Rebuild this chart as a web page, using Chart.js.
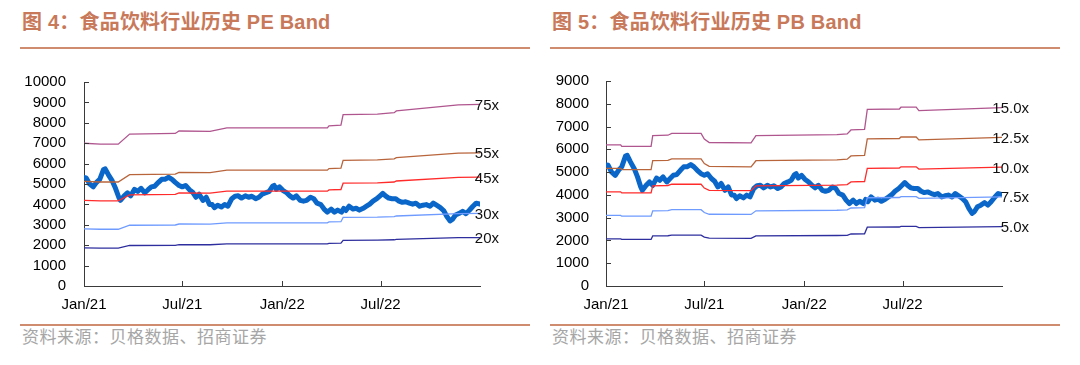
<!DOCTYPE html>
<html>
<head>
<meta charset="utf-8">
<script src="https://cdn.jsdelivr.net/npm/chart.js@4.4.0/dist/chart.umd.min.js"></script>
<style>
body{margin:0;width:1080px;height:365px;background:#fff;position:relative;overflow:hidden;font-family:"Liberation Sans","Noto Sans CJK SC",sans-serif;}
.title{position:absolute;top:12px;font-size:20px;line-height:20px;font-weight:bold;color:#C8795A;white-space:nowrap;letter-spacing:0.2px;}
.rule{position:absolute;height:2px;background:#D08C6E;}
.src{position:absolute;top:329px;font-size:17px;line-height:17px;color:#A6A6A6;letter-spacing:0.5px;white-space:nowrap;}
.box{position:absolute;top:55px;width:540px;height:267px;}
</style>
</head>
<body>

<div class="title" style="left:22px">图 4：食品饮料行业历史 PE Band</div>
<div class="rule" style="left:20px;width:510px;top:47px"></div>
<div class="box" style="left:0px"><canvas id="peChart"></canvas></div>
<div class="rule" style="left:20px;width:510px;top:324px"></div>
<div class="src" style="left:22px">资料来源：贝格数据、招商证券</div>

<div class="title" style="left:552px">图 5：食品饮料行业历史 PB Band</div>
<div class="rule" style="left:550px;width:510px;top:47px"></div>
<div class="box" style="left:540px"><canvas id="pbChart"></canvas></div>
<div class="rule" style="left:550px;width:510px;top:324px"></div>
<div class="src" style="left:552px">资料来源：贝格数据、招商证券</div>

<script>
// x axis: days since 1 Jan 2021
const tickDays=[0,181,365,546];
const tickLabels=["Jan/21","Jul/21","Jan/22","Jul/22"];

// index level (thick blue line), shared by both charts
const priceDays=[0,4,10,17,23,29,36,39,45,52,58,64,67,74,80,86,93,99,105,112,118,124,130,137,143,149,156,162,168,175,181,187,194,200,206,212,219,225,231,236,240,246,253,259,265,272,278,284,290,297,303,309,316,322,328,335,341,347,350,354,360,366,373,379,385,391,398,404,410,417,423,429,436,442,448,455,461,467,474,478,482,488,495,501,507,514,520,526,532,539,545,550,555,561,567,574,580,586,592,599,605,611,618,624,630,637,643,649,656,662,668,674,678,684,690,697,703,709,716,722,729];
const priceValues=[5320,5300,5010,4860,5080,5230,5710,5740,5450,5150,4790,4350,4200,4420,4570,4420,4740,4640,4790,4570,4720,4860,4890,5080,5230,5230,5330,5230,5080,4930,4860,4930,4720,4600,4350,4500,4200,4350,4000,3990,3840,3960,3870,3990,3910,4280,4400,4420,4310,4420,4350,4400,4280,4350,4500,4570,4640,4890,4930,4740,4860,4690,4570,4420,4310,4420,4200,4160,4200,4350,4280,4060,3990,3770,3620,3770,3620,3720,3620,3800,3700,3910,3770,3810,3720,3810,3910,4010,4160,4280,4420,4540,4420,4310,4280,4280,4160,4100,4130,4060,4010,4060,3910,3960,3990,3910,4060,3960,3840,3700,3410,3190,3260,3480,3550,3660,3550,3700,3910,4060,4010];

// PE band: earnings per index point
const peDays=[0,30,63,84,168,175,232,263,448,451,473,477,540,571,575,689,729];
const peEps=[93.3,92.7,92.7,99.3,99.7,101.3,101.1,103.3,103.3,104.7,105.1,112.0,112.4,113.3,114.4,118.4,118.7];
const peMultiples=[75,55,45,30,20];
const peLabels=["75x","55x","45x","30x","20x"];

// PB band: book value per index point
const pbDays=[0,27,29,83,86,114,121,175,181,190,267,276,425,444,451,476,481,540,543,571,576,729];
const pbBps=[413.3,413.3,408.7,408.7,440,441.3,446.7,446.7,430,420,418.7,440,443.3,445.3,456.7,458.7,516.7,518,523.3,523.3,513.3,522];
const pbMultiples=[15,12.5,10,7.5,5];
const pbLabels=["15.0x","12.5x","10.0x","7.5x","5.0x"];

const bandColors=["#B0568F","#B8653C","#FF2B2B","#6F9BFF","#2E2E9E"];

const axisFont={family:"Liberation Sans",size:15};

const bandLabelPlugin={
    id:"bandLabels",
    afterDatasetsDraw(chart,args,opts){
        const ctx=chart.ctx;
        const xs=chart.scales.x,ys=chart.scales.y;
        ctx.save();
        ctx.strokeStyle="#3a3a3a";
        ctx.lineWidth=1;
        // inside tick marks
        ys.ticks.forEach(t=>{
            const py=Math.round(ys.getPixelForValue(t.value))+0.5;
            ctx.beginPath();ctx.moveTo(xs.left,py);ctx.lineTo(xs.left+5,py);ctx.stroke();
        });
        xs.ticks.forEach(t=>{
            const px=Math.round(xs.getPixelForValue(t.value))+0.5;
            ctx.beginPath();ctx.moveTo(px,ys.bottom);ctx.lineTo(px,ys.bottom-5);ctx.stroke();
        });
        ctx.font='15px "Liberation Sans"';
        ctx.fillStyle="#111";
        ctx.textBaseline="middle";
        ctx.textAlign="right";
        chart.data.datasets.forEach((ds,i)=>{
            if(!ds.bandLabel) return;
            const meta=chart.getDatasetMeta(i);
            const last=meta.data[meta.data.length-1];
            ctx.fillText(ds.bandLabel,last.x+opts.offset,last.y+1.5);
        });
        ctx.restore();
    }
};

function makeChart(id,days,base,multiples,labels,yMax,yWidth,yPad,padRight,labelOffset){

    const datasets=multiples.map((m,i)=>({
        data:days.map((d,k)=>({x:d,y:base[k]*m})),
        borderColor:bandColors[i],
        borderWidth:1.3,
        bandLabel:labels[i],
        order:0
    }));

    datasets.push({
        data:priceDays.map((d,k)=>({x:d,y:priceValues[k]})),
        borderColor:"#0A66C8",
        borderWidth:5,
        borderJoinStyle:"round",
        borderCapStyle:"round",
        order:1
    });

    return new Chart(document.getElementById(id),{
        type:"line",
        data:{datasets:datasets},
        options:{
            responsive:true,
            maintainAspectRatio:false,
            animation:false,
            elements:{point:{radius:0},line:{tension:0}},
            layout:{padding:{left:0,right:padRight,top:24,bottom:0}},
            plugins:{legend:{display:false},tooltip:{enabled:false},bandLabels:{offset:labelOffset}},
            scales:{
                x:{
                    type:"linear",
                    min:0,
                    max:729,
                    afterBuildTicks(s){s.ticks=tickDays.map(v=>({value:v}));},
                    ticks:{
                        autoSkip:false,
                        maxRotation:0,
                        padding:10,
                        color:"#000",
                        font:axisFont,
                        callback:(v,i)=>tickLabels[i]
                    },
                    grid:{drawOnChartArea:false,drawTicks:false},
                    border:{display:true,color:"#3a3a3a",width:1},
                    afterFit(s){s.height=36;}
                },
                y:{
                    min:0,
                    max:yMax,
                    ticks:{stepSize:1000,autoSkip:false,padding:yPad,color:"#000",font:axisFont,callback:v=>String(v)},
                    grid:{drawOnChartArea:false,drawTicks:false},
                    border:{display:true,color:"#3a3a3a",width:1},
                    afterFit(s){s.width=yWidth;}
                }
            }
        },
        plugins:[bandLabelPlugin]
    });
}

makeChart("peChart",peDays,peEps,peMultiples,peLabels,10000,84,18,60,19);
makeChart("pbChart",pbDays,pbBps,pbMultiples,pbLabels,9000,66,17,78,27);
</script>
</body>
</html>
